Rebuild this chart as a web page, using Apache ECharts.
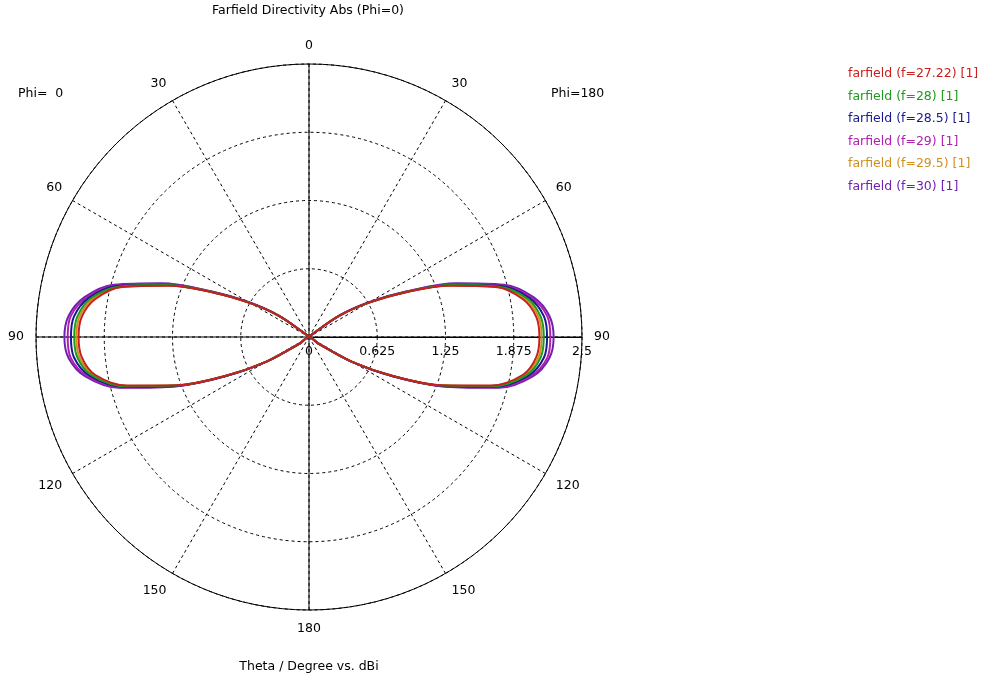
<!DOCTYPE html>
<html><head><meta charset="utf-8">
<script src="https://cdn.jsdelivr.net/npm/echarts@6/dist/echarts.min.js"></script>
<style>html,body{margin:0;padding:0;background:#fff}#c{width:990px;height:675px}</style>
</head><body><div id="c"></div>
<script>
// Theta samples (degrees), shared by every series
const thetaDeg = [0, 45, 50, 55, 60, 65, 70, 75, 80, 85, 90, 95, 100, 105, 110, 115, 120, 125, 130, 135, 180];

// Directivity (dBi, clipped at 0 as shown) per frequency
const f27_22 = [0, 0, 0.04, 0.34, 0.62, 0.96, 1.37, 1.77, 1.99, 2.09, 2.11, 2.09, 1.99, 1.72, 1.29, 0.84, 0.45, 0.10, 0, 0, 0];
const f28    = [0, 0, 0.04, 0.34, 0.62, 0.97, 1.39, 1.79, 2.03, 2.13, 2.15, 2.13, 2.02, 1.74, 1.30, 0.84, 0.45, 0.10, 0, 0, 0];
const f28_5  = [0, 0, 0.04, 0.34, 0.63, 0.97, 1.40, 1.81, 2.05, 2.16, 2.18, 2.16, 2.04, 1.76, 1.31, 0.85, 0.45, 0.10, 0, 0, 0];
const f29    = [0, 0, 0.04, 0.35, 0.63, 0.98, 1.42, 1.83, 2.07, 2.19, 2.21, 2.19, 2.06, 1.78, 1.32, 0.85, 0.46, 0.10, 0, 0, 0];
const f29_5  = [0, 0, 0.04, 0.34, 0.62, 0.96, 1.38, 1.78, 2.01, 2.11, 2.13, 2.11, 2.00, 1.73, 1.30, 0.84, 0.45, 0.10, 0, 0, 0];
const f30    = [0, 0, 0.04, 0.35, 0.64, 0.99, 1.44, 1.85, 2.09, 2.21, 2.24, 2.21, 2.08, 1.80, 1.33, 0.86, 0.46, 0.10, 0, 0, 0];

const seriesNames = ['farfield (f=27.22) [1]', 'farfield (f=28) [1]', 'farfield (f=28.5) [1]',
                     'farfield (f=29) [1]', 'farfield (f=29.5) [1]', 'farfield (f=30) [1]'];
const seriesValues = [f27_22, f28, f28_5, f29, f29_5, f30];
const seriesColors = ['#c8201e', '#1e9a1e', '#1a1a90', '#b020b0', '#d09020', '#7020b0'];

// Axis ticks
const radiusTicks = [0, 0.625, 1.25, 1.875, 2.5];
const angleStep = 30;

const FONT = 'DejaVu Sans';
const FS = 12.5;
const CENTER = [309, 337];
const RADIUS = 273;

// angle value: 0 = east, counter-clockwise. Phi=0 on the left, Phi=180 on the right.
function leftAngle(t) { return 90 + t; }
function rightAngle(t) { return (450 - t) % 360; }
function thetaLabel(v) {
  if (v >= 90 && v <= 270) return String(v - 90);
  if (v < 90) return String(90 - v);
  return String(450 - v);
}

function buildData(vals) {
  const pts = [];
  for (let i = 0; i < thetaDeg.length; i++) pts.push([vals[i], leftAngle(thetaDeg[i])]);
  for (let i = thetaDeg.length - 1; i >= 0; i--) pts.push([vals[i], rightAngle(thetaDeg[i])]);
  return pts;
}

const chart = echarts.init(document.getElementById('c'), null, {renderer: 'canvas'});
const txt = {fontFamily: FONT, fontSize: FS, fontWeight: 'normal', color: '#000'};

chart.setOption({
  backgroundColor: '#fff',
  animation: false,
  title: [
    {text: 'Farfield Directivity Abs (Phi=0)', left: 308, top: 4, padding: 0, textAlign: 'center', textStyle: txt},
    {text: 'Phi=  0', left: 18, top: 87, padding: 0, textStyle: txt},
    {text: 'Phi=180', left: 551, top: 87, padding: 0, textStyle: txt},
    {text: 'Theta / Degree vs. dBi', left: 309, top: 660, padding: 0, textAlign: 'center', textStyle: txt}
  ],
  legend: {
    orient: 'vertical', left: 838, top: 62,
    itemWidth: 0, itemHeight: 14, itemGap: 8.5,
    icon: 'rect', selectedMode: false,
    textStyle: {fontFamily: FONT, fontSize: FS},
    data: seriesNames.map((n, i) => ({name: n, textStyle: {color: seriesColors[i]}}))
  },
  polar: [
    {center: CENTER, radius: RADIUS},
    {center: CENTER, radius: RADIUS}
  ],
  angleAxis: [
    {
      polarIndex: 0, type: 'value', min: 0, max: 360, interval: angleStep,
      startAngle: 0, clockwise: false,
      axisLine: {show: true, lineStyle: {color: '#000', width: 1}},
      axisTick: {show: false},
      axisLabel: {show: true, margin: 12, color: '#000', fontFamily: FONT, fontSize: FS,
                  formatter: v => thetaLabel(v)},
      splitLine: {show: true, lineStyle: {color: '#000', width: 1, type: [3, 3]}}
    },
    {
      polarIndex: 1, type: 'value', min: 0, max: 360, interval: 90,
      startAngle: 0, clockwise: false,
      axisLine: {show: false}, axisTick: {show: false}, axisLabel: {show: false},
      splitLine: {show: true, lineStyle: {color: '#000', width: 1, type: 'solid'}}
    }
  ],
  radiusAxis: [
    {
      polarIndex: 0, type: 'value', min: radiusTicks[0], max: radiusTicks[radiusTicks.length - 1],
      interval: radiusTicks[1] - radiusTicks[0],
      axisLine: {show: true, lineStyle: {color: '#000', width: 1}},
      axisTick: {show: false},
      axisLabel: {show: true, color: '#000', fontFamily: FONT, fontSize: FS, margin: -8,
                  verticalAlign: 'top', align: 'center',
                  formatter: v => { const s = radiusTicks.find(t => Math.abs(t - v) < 1e-6); return s === undefined ? '' : String(s); }},
      splitLine: {show: true, lineStyle: {color: '#000', width: 1, type: [3, 3]}},
      splitArea: {show: false}
    },
    {
      polarIndex: 1, type: 'value', min: 0, max: 2.5, show: true,
      axisLine: {show: false}, axisTick: {show: false}, axisLabel: {show: false},
      splitLine: {show: false}
    }
  ],
  series: seriesNames.map((n, i) => ({
    name: n, type: 'line', coordinateSystem: 'polar', polarIndex: 0,
    data: buildData(seriesValues[i]),
    showSymbol: false, symbol: 'none', smooth: 0.35,
    z: 10 + (seriesNames.length - i) * (i === 4 ? 0.5 : 1),
    lineStyle: {color: seriesColors[i], width: 2},
    itemStyle: {color: seriesColors[i]}
  }))
});
</script>
</body></html>
